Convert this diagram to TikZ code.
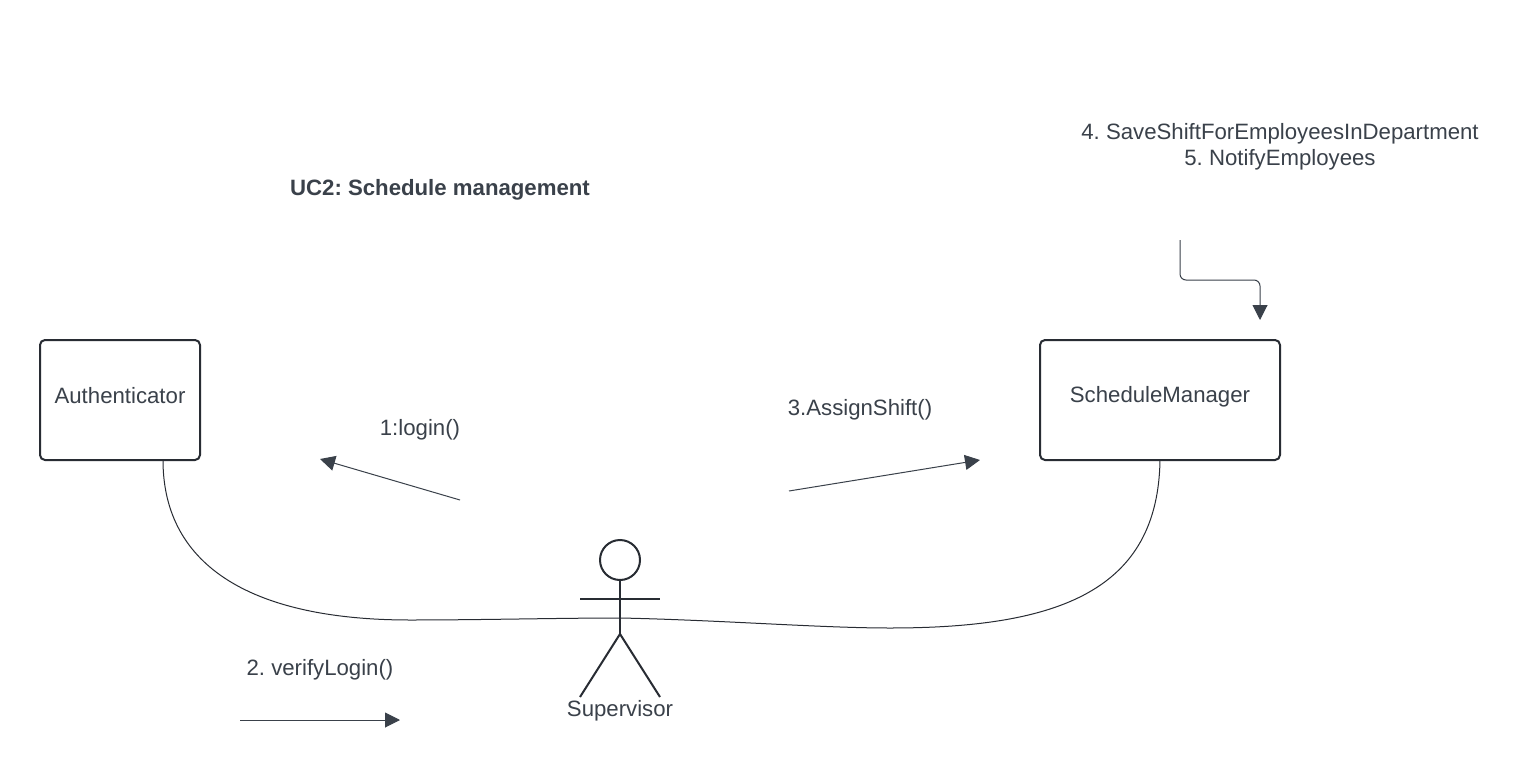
\documentclass[tikz,border=0pt]{standalone}
\usepackage{fontspec}
\setmainfont{Liberation Sans}
\usetikzlibrary{arrows.meta}
\definecolor{ink}{HTML}{282C33}
\definecolor{txt}{HTML}{3A414A}
\frenchspacing
\tikzset{
  box/.style={draw=ink,line width=2pt,rounded corners=5pt,fill=white,inner sep=0pt,outer sep=0pt},
  lbl/.style={text=txt,font=\fontsize{22.2}{26.5}\selectfont,inner sep=0pt,align=center},
  msg/.style={draw=txt,line width=1pt,-{Triangle[length=15pt,width=15pt]}},
  link/.style={draw=ink,line width=1pt},
  stick/.style={draw=ink,line width=2pt},
}
\begin{document}
\begin{tikzpicture}[x=1pt,y=-1pt]
\useasboundingbox[fill=white] (0,0) rectangle (1540,768);
% Boxes
\node[box,minimum width=160pt,minimum height=120pt,anchor=north west] (auth) at (40,340) {};
\node[lbl] (authT) at (120,396) {Authenticator};
\node[box,minimum width=240pt,minimum height=120pt,anchor=north west] (sched) at (1040,340) {};
\node[lbl] (schedT) at (1160,397) {ScheduleManager};
% Labels
\node[lbl,font=\fontsize{22.2}{26.5}\selectfont\bfseries] (title) at (440,190) {UC2: Schedule management};
\node[lbl] (l1) at (420,430) {1:login()};
\node[lbl] (l3) at (860,410) {3.AssignShift()};
\node[lbl] (l2) at (320,670) {2. verifyLogin()};
\node[lbl] (l45) at (1280,147) {4. SaveShiftForEmployeesInDepartment\\5. NotifyEmployees};
\node[lbl] (sup) at (620,710.5) {Supervisor};
% Actor
\node[draw=ink,line width=2pt,circle,minimum size=40pt,inner sep=0pt,outer sep=0pt] (head) at (620,560) {};
\coordinate (hip) at (620,634);
\coordinate (armL) at (580,599);
\coordinate (armR) at (660,599);
\coordinate (legL) at (580,697);
\coordinate (legR) at (660,697);
\coordinate (mid) at (620,618);
\draw[stick] (head.south) -- (hip);
\draw[stick] (armL) -- (armR);
\draw[stick,line join=miter] (legL) -- (hip) -- (legR);
% Curved link
\coordinate (aB) at (163,460);
\coordinate (sB) at (1160,460);
\coordinate (c1) at (410,620);
\coordinate (c2) at (890,628);
\draw[link] (aB) .. controls (163,568) and (255,620) .. (c1)
  .. controls (480,620) and (560,618) .. (mid)
  .. controls (720,620) and (820,628) .. (c2)
  .. controls (1060,628) and (1158,590) .. (sB);
% Messages
\coordinate (m1s) at (460,500);
\coordinate (m1e) at (320,459);
\draw[msg] (m1s) -- (m1e);
\coordinate (m3s) at (789,491);
\coordinate (m3e) at (980,460);
\draw[msg] (m3s) -- (m3e);
\coordinate (m2s) at (240,720);
\coordinate (m2e) at (400,720);
\draw[msg] (m2s) -- (m2e);
\coordinate (m4s) at (1180,240);
\coordinate (m4e) at (1260,320);
\draw[msg,rounded corners=6pt] (m4s) |- (1260,280) -- (m4e);
\end{tikzpicture}
\end{document}
